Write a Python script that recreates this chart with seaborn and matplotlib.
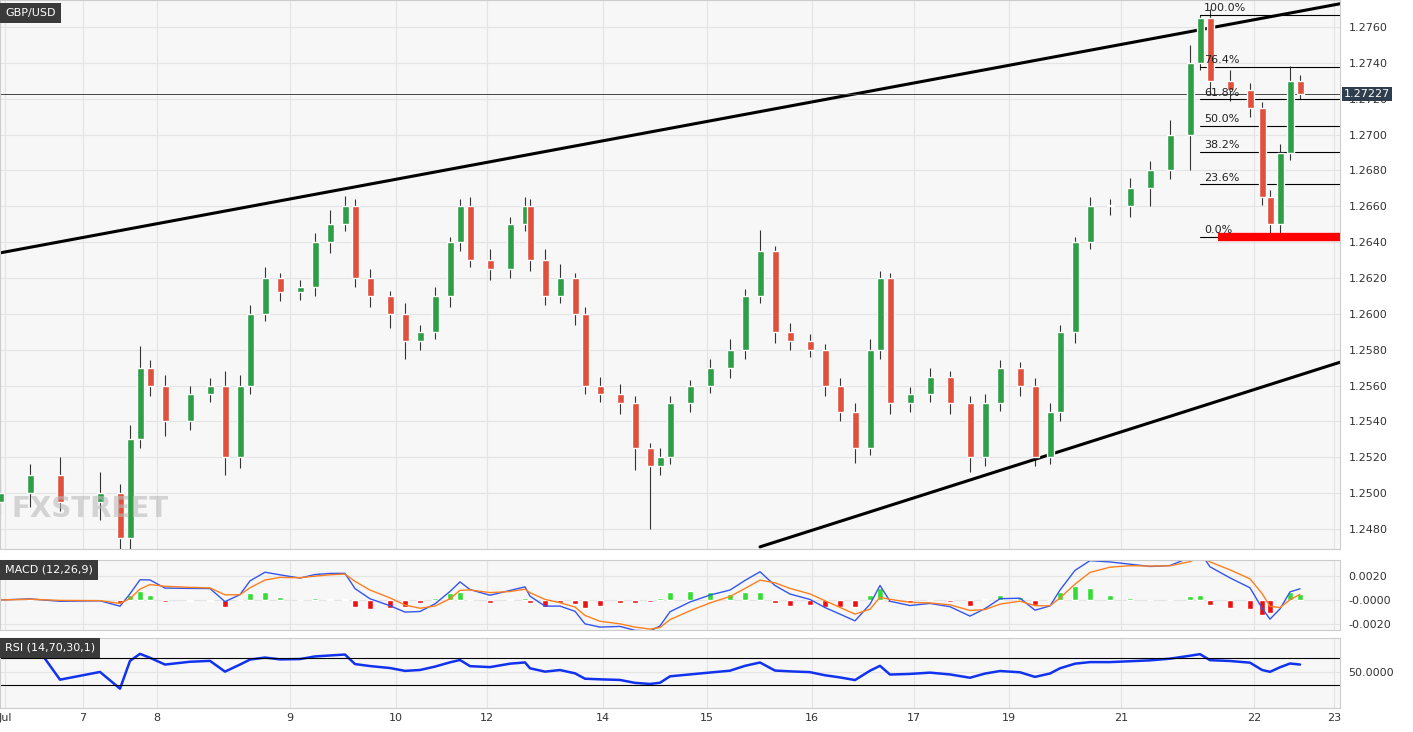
import numpy as np
import pandas as pd
import seaborn as sns
import matplotlib.pyplot as plt

# time in chart units, closing prices
t = [0, 30, 60, 100, 120, 130, 140, 150, 165, 190, 210, 225, 240, 250, 265, 280, 300, 315, 330, 345,
     355, 370, 390, 405, 420, 435, 450, 460, 470, 490, 510, 525, 530, 545, 560, 575, 585, 600, 620, 635,
     650, 660, 670, 690, 710, 730, 745, 760, 775, 790, 810, 825, 840, 855, 870, 880, 890, 910, 930, 950,
     970, 985, 1000, 1020, 1035, 1050, 1060, 1075, 1090, 1110, 1130, 1150, 1170, 1190, 1200, 1210, 1230,
     1250, 1262, 1270, 1280, 1290, 1300]
close = [1.2500, 1.2510, 1.2495, 1.2500, 1.2475, 1.2530, 1.2570, 1.2560, 1.2540, 1.2555, 1.2560, 1.2520,
         1.2560, 1.2600, 1.2620, 1.2612, 1.2615, 1.2640, 1.2650, 1.2660, 1.2620, 1.2610, 1.2600, 1.2585,
         1.2590, 1.2610, 1.2640, 1.2660, 1.2630, 1.2625, 1.2650, 1.2660, 1.2630, 1.2610, 1.2620, 1.2600,
         1.2560, 1.2555, 1.2550, 1.2525, 1.2515, 1.2520, 1.2550, 1.2560, 1.2570, 1.2580, 1.2610, 1.2635,
         1.2590, 1.2585, 1.2580, 1.2560, 1.2545, 1.2525, 1.2580, 1.2620, 1.2550, 1.2555, 1.2565, 1.2550,
         1.2520, 1.2550, 1.2570, 1.2560, 1.2520, 1.2545, 1.2590, 1.2640, 1.2660, 1.2660, 1.2670, 1.2680,
         1.2700, 1.2740, 1.2765, 1.2730, 1.2725, 1.2715, 1.2665, 1.2650, 1.2690, 1.2730, 1.27227]
wick_up = [8, 6, 10, 12, 5, 8, 12, 4, 6, 5, 4, 8, 6, 5, 6, 3, 4, 5, 8, 6,
           4, 5, 3, 6, 4, 5, 3, 4, 5, 6, 4, 5, 4, 6, 8, 3, 4, 5, 6, 4,
           3, 5, 4, 3, 5, 6, 4, 12, 3, 5, 4, 3, 4, 5, 6, 4, 3, 4, 5, 3,
           4, 5, 4, 3, 4, 5, 4, 3, 5, 4, 6, 5, 8, 10, 2, 5, 6, 4, 3, 4, 5, 8, 3]
wick_dn = [6, 8, 5, 10, 12, 6, 5, 6, 8, 5, 4, 10, 6, 5, 4, 5, 4, 5, 6, 4,
           5, 6, 8, 10, 5, 4, 6, 5, 4, 6, 5, 4, 6, 5, 4, 6, 5, 4, 6, 12,
           35, 5, 4, 5, 4, 6, 5, 4, 6, 5, 4, 6, 5, 8, 4, 5, 6, 5, 4, 6,
           8, 5, 4, 6, 5, 4, 5, 6, 4, 5, 6, 10, 5, 20, 4, 8, 6, 5, 4, 8, 5, 4, 3]

day_pos = [5, 83, 157, 290, 396, 487, 603, 707, 812, 914, 1009, 1121, 1254, 1334]
day_lab = ["Jul", "7", "8", "9", "10", "12", "14", "15", "16", "17", "19", "21", "22", "23"]
fib_lev = [0.0, 23.6, 38.2, 50.0, 61.8, 76.4, 100.0]
fib_lo, fib_hi = 1.2643, 1.2767

df = pd.DataFrame({"t": t, "close": close})
df["open"] = df["close"].shift(1).fillna(1.2495)
df["high"] = df[["open", "close"]].max(axis=1) + np.array(wick_up) * 0.0001
df["low"] = df[["open", "close"]].min(axis=1) - np.array(wick_dn) * 0.0001
df["up"] = df["close"] >= df["open"]

ema_f = df["close"].ewm(span=3).mean()
ema_s = df["close"].ewm(span=7).mean()
df["macd"] = ema_f - ema_s
df["signal"] = df["macd"].ewm(span=3).mean()
df["hist"] = df["macd"] - df["signal"]
d = df["close"].diff()
gain = d.clip(lower=0).ewm(alpha=1 / 12).mean()
loss = (-d.clip(upper=0)).ewm(alpha=1 / 12).mean()
df["rsi"] = 100 - 100 / (1 + gain / loss.replace(0, 1e-9))

sns.set_style("whitegrid", {"axes.facecolor": "#f7f7f7", "grid.color": "#e4e4e4"})
plt.rcParams["font.family"] = ["DejaVu Sans"]
fig = plt.figure(figsize=(14.13, 7.32), dpi=100)
W = 1340 / 1413
ax = fig.add_axes([0, 1 - 549 / 732, W, 549 / 732])
ax2 = fig.add_axes([0, 1 - 630 / 732, W, 70 / 732])
ax3 = fig.add_axes([0, 1 - 708 / 732, W, 70 / 732])
xlim = (0, 1340)

green, red = "#2e9e47", "#e0503c"
for _, r in df.iterrows():
    c = green if r["up"] else red
    ax.vlines(r["t"], r["low"], r["high"], color="#333333", lw=0.8, zorder=2)
    ax.bar(r["t"], max(abs(r["close"] - r["open"]), 0.00005), bottom=min(r["open"], r["close"]),
           width=7, color=c, zorder=3)

ax.plot([0, 1340], [1.2634, 1.2773], color="black", lw=2.2)
ax.plot([760, 1340], [1.2470, 1.2573], color="black", lw=2.2)
for lv in fib_lev:
    p = fib_lo + (fib_hi - fib_lo) * lv / 100
    ax.plot([1200, 1340], [p, p], color="black", lw=0.8)
    ax.text(1204, p + 0.0002, f"{lv:.1f}%", fontsize=8, color="#222222")
ax.plot([1218, 1340], [fib_lo, fib_lo], color="red", lw=6, solid_capstyle="butt")
ax.axhline(close[-1], color="#444444", lw=0.7)
ax.text(1.003, close[-1], f"{close[-1]:.5f}", transform=ax.get_yaxis_transform(), fontsize=8,
        color="white", va="center", zorder=10,
        bbox=dict(boxstyle="square,pad=0.2", fc="#2f3e4e", ec="none"))
ax.text(12, 1.2491, "FXSTREET", fontsize=20, color="#bbbbbb", alpha=0.6, ha="left", va="center",
        fontweight="bold")
ax.set_ylim(1.24688, 1.27751)
ax.set_yticks(np.arange(1.2480, 1.2761, 0.0020))
ax.yaxis.set_major_formatter(plt.FuncFormatter(lambda v, _: f"{v:.4f}"))

ax2.bar(df["t"], df["hist"], width=6, color=np.where(df["hist"] >= 0, "#33dd33", "#ee1111"))
sns.lineplot(x=df["t"], y=df["macd"], ax=ax2, color="#3355ee", lw=1)
sns.lineplot(x=df["t"], y=df["signal"], ax=ax2, color="#ff7f1e", lw=1)
ax2.set_ylim(-0.0025, 0.00333)
ax2.set_yticks([-0.002, 0.0, 0.002])
ax2.set_yticklabels(["-0.0020", "-0.0000", "0.0020"])

sns.lineplot(x=df["t"], y=df["rsi"], ax=ax3, color="#1133ee", lw=1.8)
ax3.axhline(70, color="black", lw=0.8)
ax3.axhline(30, color="black", lw=0.8)
ax3.set_ylim(-4, 99.6)
ax3.set_yticks([50])
ax3.set_yticklabels(["50.0000"])

for a, lab in [(ax, "GBP/USD"), (ax2, "MACD (12,26,9)"), (ax3, "RSI (14,70,30,1)")]:
    a.set_xlim(*xlim)
    a.yaxis.tick_right()
    a.tick_params(axis="y", labelsize=8, colors="#333333", length=0, pad=6)
    a.set_xlabel("")
    a.set_ylabel("")
    a.set_xticks(day_pos)
    a.set_xticklabels([])
    a.tick_params(axis="x", length=0)
    for s in a.spines.values():
        s.set_color("#cccccc")
    a.text(0.004, 0.985 if a is ax else 0.93, lab, transform=a.transAxes, fontsize=8, color="white",
           va="top", bbox=dict(boxstyle="square,pad=0.45", fc="#3a3a3a", ec="none"))
ax3.set_xticklabels(day_lab, fontsize=8, color="#333333")
fig.savefig("out.png", dpi=100)
